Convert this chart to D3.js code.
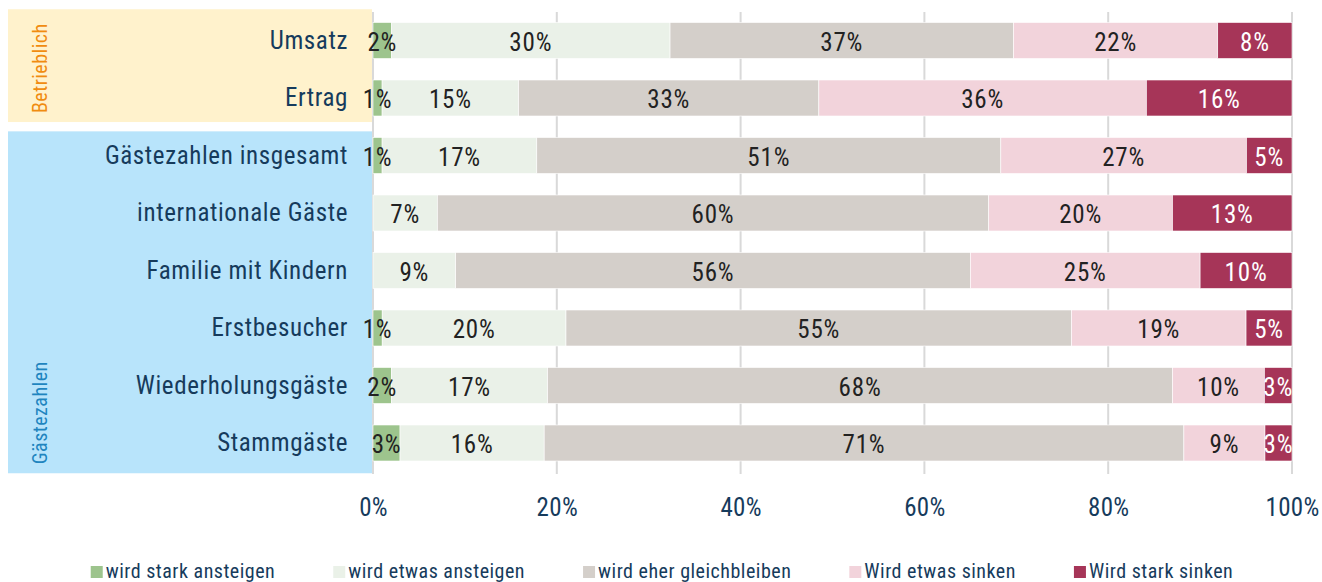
<!DOCTYPE html>
<html>
<head>
<meta charset="utf-8">
<script src="https://cdn.jsdelivr.net/npm/d3@7"></script>
<style>
  html, body { margin: 0; padding: 0; background: #fff; }
  svg { display: block; font-family: "Roboto Condensed", "Liberation Sans Narrow", "DejaVu Sans Condensed", Roboto, sans-serif; }
</style>
</head>
<body>
<svg id="chart" width="1322" height="582"></svg>
<script>
const categories = ["Umsatz", "Ertrag", "Gästezahlen insgesamt", "internationale Gäste", "Familie mit Kindern", "Erstbesucher", "Wiederholungsgäste", "Stammgäste"];
const seriesNames = ["wird stark ansteigen", "wird etwas ansteigen", "wird eher gleichbleiben", "Wird etwas sinken", "Wird stark sinken"];
const starkAnsteigen   = [2, 1, 1, 0, 0, 1, 2, 3];
const etwasAnsteigen   = [30, 15, 17, 7, 9, 20, 17, 16];
const gleichbleiben    = [37, 33, 51, 60, 56, 55, 68, 71];
const etwasSinken      = [22, 36, 27, 20, 25, 19, 10, 9];
const starkSinken      = [8, 16, 5, 13, 10, 5, 3, 3];
const groups = [
  { name: "Betrieblich", members: ["Umsatz", "Ertrag"] },
  { name: "Gästezahlen", members: ["Gästezahlen insgesamt", "internationale Gäste", "Familie mit Kindern", "Erstbesucher", "Wiederholungsgäste", "Stammgäste"] }
];
const tickValues = [0, 0.2, 0.4, 0.6, 0.8, 1.0];

const colors = ["#9dc48d", "#eaf1e8", "#d4cfca", "#f2d3db", "#a63558"];
const labelColors = ["#222", "#222", "#222", "#222", "#fff"];
const groupFill = ["#fff2cc", "#b8e4fb"];
const groupText = ["#f08c10", "#1f85bf"];
const navy = "#163b5c";

const seriesArrays = [starkAnsteigen, etwasAnsteigen, gleichbleiben, etwasSinken, starkSinken];
const rows = categories.map((c, i) => {
  const o = { category: c };
  seriesNames.forEach((s, j) => o[s] = seriesArrays[j][i]);
  return o;
});

const svg = d3.select("#chart");
const x = d3.scaleLinear().domain([0, 1]).range([373, 1292]);
const y = d3.scaleBand().domain(categories).range([11.75, 471.75]).paddingInner(0.374).paddingOuter(0.187);

const stack = d3.stack().keys(seriesNames).offset(d3.stackOffsetExpand);
const stacked = stack(rows);

// group backgrounds
const step = y.step();
groups.forEach((g, gi) => {
  const first = g.members[0], last = g.members[g.members.length - 1];
  let top = y(first) + y.bandwidth() / 2 - step / 2;
  let bot = y(last) + y.bandwidth() / 2 + step / 2;
  if (gi === 0) { top -= 2.5; bot -= 4.7; } else { top += 4.6; bot += 1.5; }
  svg.append("rect").attr("x", 8).attr("y", top).attr("width", 364).attr("height", bot - top).attr("fill", groupFill[gi]);
  svg.append("text")
    .attr("transform", `translate(47,${bot - 9}) rotate(-90)`)
    .attr("text-anchor", "start")
    .attr("fill", groupText[gi])
    .style("font-size", "20px")
    .style("letter-spacing", "0.5px")
    .text(g.name);
});

// gridlines
svg.append("g").selectAll("line").data(tickValues).join("line")
  .attr("x1", d => x(d)).attr("x2", d => x(d))
  .attr("y1", 12).attr("y2", 474)
  .attr("stroke", "#d9d9d9").attr("stroke-width", 2);

// bars
const layer = svg.append("g").selectAll("g").data(stacked).join("g").attr("fill", (d, i) => colors[i]);
layer.selectAll("rect").data(d => d.map(v => ({ v, cat: v.data.category }))).join("rect")
  .attr("x", d => x(d.v[0]))
  .attr("y", d => y(d.cat))
  .attr("width", d => Math.max(0, x(d.v[1]) - x(d.v[0])))
  .attr("height", y.bandwidth())
  .attr("stroke", "#fff").attr("stroke-width", 0.6);

// value labels
stacked.forEach((s, si) => {
  svg.append("g").selectAll("text").data(s.filter(v => v.data[s.key] > 0)).join("text")
    .attr("x", v => x((v[0] + v[1]) / 2))
    .attr("y", v => y(v.data.category) + y.bandwidth() / 2)
    .attr("dy", "0.4em")
    .attr("text-anchor", "middle")
    .attr("fill", labelColors[si])
    .style("font-size", "25px")
    .style("letter-spacing", "0.8px")
    .text(v => v.data[s.key] + "%");
});

// category axis
const yAxis = d3.axisLeft(y).tickSize(0).tickPadding(25);
const yg = svg.append("g").attr("transform", `translate(${x(0)},0)`).call(yAxis);
yg.attr("font-family", null).attr("font-size", null);
yg.select(".domain").remove();
yg.selectAll("text").attr("fill", navy).style("font-size", "25px").style("letter-spacing", "0.6px");

// x axis
const xAxis = d3.axisBottom(x).tickValues(tickValues).tickFormat(d3.format(".0%")).tickSize(0).tickPadding(0);
const xg = svg.append("g").attr("transform", `translate(0,498)`).call(xAxis);
xg.attr("font-family", null).attr("font-size", null);
xg.select(".domain").remove();
xg.selectAll("text").attr("fill", navy).style("font-size", "25px").style("letter-spacing", "0.3px");

// legend
const legend = svg.append("g");
let lx = 0;
seriesNames.forEach((s, i) => {
  const g = legend.append("g").attr("transform", `translate(${lx},0)`);
  g.append("rect").attr("x", 0).attr("y", 566).attr("width", 12).attr("height", 12).attr("fill", colors[i]);
  const t = g.append("text").attr("x", 15).attr("y", 578).attr("fill", navy)
    .style("font-size", "20px").style("letter-spacing", "0.5px").text(s);
  lx += 15 + t.node().getComputedTextLength() + 58;
});
const totalW = lx - 58;
legend.attr("transform", `translate(${(1322 - totalW) / 2 + 1},0)`);
</script>
</body>
</html>
